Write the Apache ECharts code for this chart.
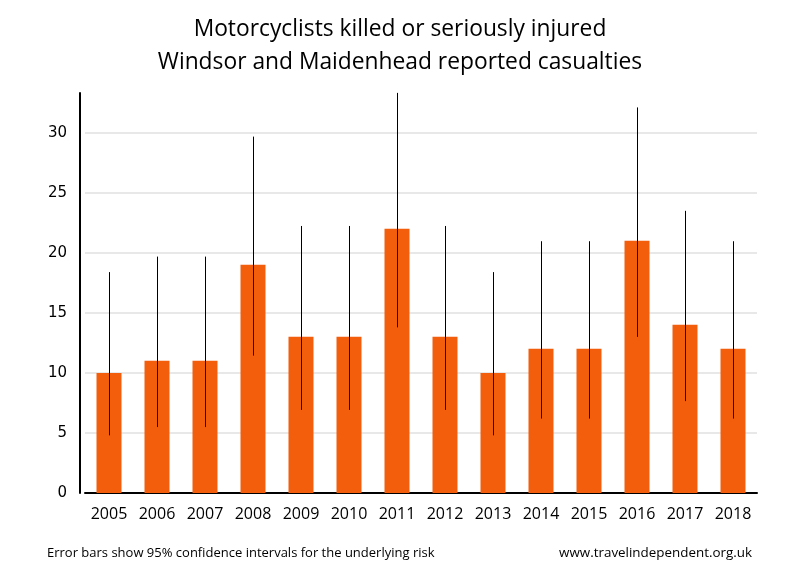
<!DOCTYPE html>
<html><head><meta charset="utf-8">
<script src="https://cdn.jsdelivr.net/npm/echarts@6/dist/echarts.min.js"></script>
<style>html,body{margin:0;padding:0;background:#fff}#c{width:800px;height:580px}</style>
</head><body><div id="c"></div>
<script>
const years = ['2005','2006','2007','2008','2009','2010','2011','2012','2013','2014','2015','2016','2017','2018'];
const casualties = [10, 11, 11, 19, 13, 13, 22, 13, 10, 12, 12, 21, 14, 12];
const ciLower = [4.80, 5.49, 5.49, 11.44, 6.92, 6.92, 13.79, 6.92, 4.80, 6.20, 6.20, 13.00, 7.65, 6.20];
const ciUpper = [18.39, 19.68, 19.68, 29.67, 22.23, 22.23, 33.31, 22.23, 18.39, 20.96, 20.96, 32.10, 23.49, 20.96];
const yTicks = [0, 5, 10, 15, 20, 25, 30];

const chart = echarts.init(document.getElementById('c'), null, {renderer: 'canvas'});
const errData = years.map((y, i) => [i, ciLower[i], ciUpper[i]]);
chart.setOption({
  animation: false,
  backgroundColor: '#ffffff',
  title: {
    text: 'Motorcyclists killed or seriously injured\nWindsor and Maidenhead reported casualties',
    left: 'center', top: 8,
    textStyle: {fontFamily: 'Open Sans', fontSize: 22.8, fontWeight: 'normal', color: '#000', lineHeight: 33}
  },
  graphic: [
    {type: 'text', left: 47, top: 547, style: {text: 'Error bars show 95% confidence intervals for the underlying risk', font: '13px "Open Sans"', fill: '#000'}},
    {type: 'text', right: 48, top: 547, style: {text: 'www.travelindependent.org.uk', font: '13.4px "Open Sans"', fill: '#000'}}
  ],
  grid: {left: 85, right: 43, top: 93, bottom: 87},
  xAxis: {
    type: 'category', data: years,
    axisLine: {lineStyle: {color: '#000', width: 2}},
    axisTick: {show: false},
    axisLabel: {color: '#000', fontFamily: 'Open Sans', fontSize: 16, margin: 13}
  },
  yAxis: {
    type: 'value', min: 0, max: 33.3, interval: 5, offset: 5,
    axisLine: {show: true, lineStyle: {color: '#000', width: 2}},
    axisTick: {show: false},
    axisLabel: {color: '#000', fontFamily: 'DejaVu Sans', fontSize: 15, margin: 13,
      formatter: v => yTicks.includes(v) ? String(v) : ''},
    splitLine: {show: false}
  },
  series: [
    {type: 'bar', data: casualties, barWidth: 25, itemStyle: {color: '#F35E0D'}, z: 3,
      markLine: {silent: true, symbol: 'none', label: {show: false}, z: 1,
        lineStyle: {color: '#e8e8e8', width: 2, type: 'solid'},
        data: yTicks.filter(v => v > 0).map(v => ({yAxis: v}))}},
    {type: 'custom', data: errData, z: 10,
      renderItem: function (params, api) {
        const x = api.value(0);
        const lo = api.coord([x, api.value(1)]);
        const hi = api.coord([x, api.value(2)]);
        return {type: 'line', shape: {x1: Math.round(lo[0]) + 0.5, y1: lo[1], x2: Math.round(hi[0]) + 0.5, y2: hi[1]},
          style: {stroke: '#000', lineWidth: 1}};
      }}
  ]
});
</script></body></html>
